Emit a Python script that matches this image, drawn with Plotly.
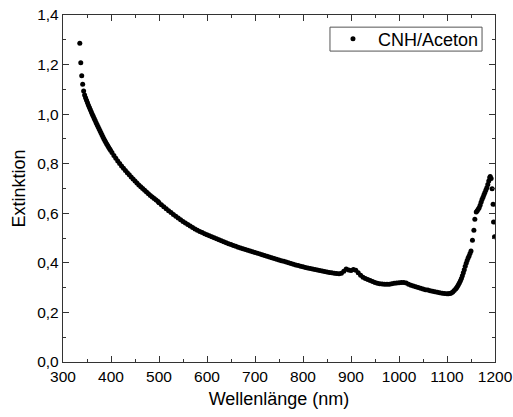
import plotly.graph_objects as go

# ---- data ----
start_wl = [335, 337, 339, 341, 343]
start_ext = [1.286, 1.207, 1.155, 1.121, 1.093]

uv_wl = list(range(345, 400, 2))
uv_ext = [1.077, 1.066, 1.056, 1.046, 1.036, 1.027, 1.018, 1.009, 1.000,
          0.991, 0.982, 0.974, 0.965, 0.957, 0.949, 0.941, 0.933, 0.925, 0.917,
          0.909, 0.901, 0.894, 0.887, 0.880, 0.873, 0.866, 0.860, 0.854]

blue_wl = list(range(402, 499, 4))
blue_ext = [0.845, 0.833, 0.822, 0.811, 0.801, 0.791, 0.782, 0.773, 0.764, 0.755,
            0.746, 0.738, 0.730, 0.722, 0.714, 0.707, 0.700, 0.693, 0.686, 0.679,
            0.672, 0.666, 0.660, 0.654, 0.648]

vis_wl = list(range(500, 1100, 5))
vis_ext = [
    0.643, 0.634, 0.626, 0.618, 0.610, 0.603, 0.595, 0.588, 0.581, 0.574,
    0.567, 0.561, 0.555, 0.549, 0.543, 0.537, 0.532, 0.527, 0.522, 0.517,
    0.513, 0.509, 0.505, 0.501, 0.497, 0.493, 0.489, 0.485, 0.481, 0.477,
    0.474, 0.470, 0.467, 0.463, 0.460, 0.457, 0.454, 0.451, 0.448, 0.445,
    0.442, 0.439, 0.436, 0.433, 0.430, 0.427, 0.424, 0.421, 0.418, 0.415,
    0.412, 0.409, 0.406, 0.403, 0.400, 0.397, 0.394, 0.391, 0.389, 0.386,
    0.384, 0.381, 0.379, 0.377, 0.375, 0.373, 0.371, 0.369, 0.367, 0.365,
    0.363, 0.361, 0.360, 0.358, 0.357, 0.356, 0.358, 0.366, 0.375, 0.371,
    0.369, 0.373, 0.370, 0.360, 0.350, 0.342, 0.337, 0.333, 0.329, 0.325,
    0.321, 0.318, 0.316, 0.315, 0.314, 0.314, 0.314, 0.316, 0.318, 0.319,
    0.320, 0.321, 0.321, 0.319, 0.314, 0.310, 0.307, 0.304, 0.301, 0.298,
    0.295, 0.292, 0.290, 0.287, 0.285, 0.283, 0.281, 0.279, 0.277, 0.276,
]

nir_wl = [1100, 1103, 1106, 1109, 1112, 1115, 1118,
          1120, 1122, 1124, 1126, 1128, 1130, 1132, 1134, 1136, 1138, 1140, 1142,
          1144, 1146, 1148, 1150, 1153, 1156, 1158, 1161,
          1163, 1165, 1167, 1169, 1171, 1173, 1175, 1177, 1179, 1181, 1183, 1185,
          1187, 1189, 1190, 1192, 1194, 1196, 1197, 1199]
nir_ext = [0.275, 0.275, 0.276, 0.278, 0.282, 0.288, 0.295,
           0.300, 0.306, 0.313, 0.320, 0.328, 0.337, 0.348, 0.360, 0.372, 0.386, 0.398, 0.410,
           0.420, 0.428, 0.438, 0.448, 0.491, 0.532, 0.576, 0.605,
           0.610, 0.616, 0.622, 0.632, 0.645, 0.656, 0.665, 0.675, 0.684, 0.694, 0.703, 0.716,
           0.730, 0.743, 0.748, 0.740, 0.699, 0.636, 0.565, 0.505]

wavelength = start_wl + uv_wl + blue_wl + vis_wl + nir_wl
extinction = start_ext + uv_ext + blue_ext + vis_ext + nir_ext

x_tickvals = [300, 400, 500, 600, 700, 800, 900, 1000, 1100, 1200]
x_ticktext = ["300", "400", "500", "600", "700", "800", "900", "1000", "1100", "1200"]
y_tickvals = [0.0, 0.2, 0.4, 0.6, 0.8, 1.0, 1.2, 1.4]
y_ticktext = ["0,0", "0,2", "0,4", "0,6", "0,8", "1,0", "1,2", "1,4"]

series_name = "CNH/Aceton"
x_title = "Wellenlänge (nm)"
y_title = "Extinktion"

# ---- figure ----
FONT = "Arial, 'Liberation Sans', sans-serif"
AX = "#333333"

fig = go.Figure()
fig.add_trace(go.Scatter(
    x=wavelength, y=extinction, mode="markers", name=series_name,
    marker=dict(color="black", size=5, line=dict(width=0)),
))

common = dict(
    showline=True, linecolor=AX, linewidth=1.3, mirror="ticks",
    ticks="inside", ticklen=6, tickwidth=1.3, tickcolor=AX,
    showgrid=False, zeroline=False, automargin=False,
    tickfont=dict(family=FONT, size=15.5, color="black"),
)

fig.update_xaxes(
    range=[300, 1200], tickmode="array", tickvals=x_tickvals, ticktext=x_ticktext,
    minor=dict(tickmode="linear", tick0=300, dtick=50, ticks="inside", ticklen=3,
               tickwidth=1.3, tickcolor=AX, showgrid=False),
    title=dict(text=x_title, font=dict(family=FONT, size=18, color="black"), standoff=8),
    **common,
)
fig.update_yaxes(
    range=[0, 1.4], tickmode="array", tickvals=y_tickvals, ticktext=y_ticktext,
    minor=dict(tickmode="linear", tick0=0, dtick=0.1, ticks="inside", ticklen=3,
               tickwidth=1.3, tickcolor=AX, showgrid=False),
    title=dict(text=y_title, font=dict(family=FONT, size=18, color="black"), standoff=6),
    **common,
)

# legend frame (drawn as a shape so its height matches the reference)
fig.add_shape(type="rect", xref="paper", yref="paper",
              x0=0.618, x1=0.970, y0=0.896, y1=0.965,
              line=dict(color="#555555", width=1), fillcolor="rgba(0,0,0,0)", layer="above")

fig.update_layout(
    width=513, height=417, autosize=False,
    margin=dict(l=63, r=18, t=15, b=55, pad=0),
    paper_bgcolor="white", plot_bgcolor="white",
    font=dict(family=FONT, color="black"),
    showlegend=True,
    legend=dict(
        x=0.6134, y=0.984, xanchor="left", yanchor="top",
        borderwidth=0, bgcolor="rgba(0,0,0,0)", itemwidth=40,
        font=dict(family=FONT, size=18, color="black"),
    ),
)

fig.write_html("out.html")
